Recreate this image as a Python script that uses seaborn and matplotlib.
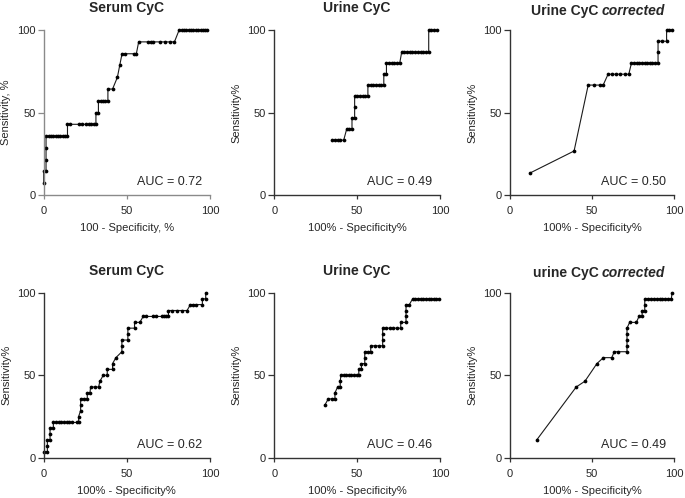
import numpy as np
import pandas as pd
import matplotlib
matplotlib.use("Agg")
import matplotlib.pyplot as plt
import seaborn as sns

sns.set_style("ticks")
plt.rcParams['font.family'] = ['Liberation Sans', 'DejaVu Sans']

# --- ROC curve points ---
# top row
serum_top_x = [0, 0, 1.4, 1.4, 1.4, 1.4, 2.9, 4.3, 5.7, 7.1, 8.6, 10, 11.4, 12.9, 14.3,
               14.3, 15.7, 21.4, 22.9, 25.7, 27.1, 28.6, 30, 31.4, 31.4, 32.9,
               32.9, 34.3, 35.7, 37.1, 38.6, 38.6, 41.4, 44.3, 45.7, 47.1, 48.6, 54.3, 55.7,
               57.1, 62.9, 64.3, 65.7, 70, 72.9, 75.7, 78.6,
               81.4, 82.9, 84.3, 85.7, 87.1, 88.6, 90, 91.4, 92.9, 94.3, 95.7, 97.1, 98.2]
serum_top_y = [7.1, 14.3, 14.3, 21.4, 28.6, 35.7, 35.7, 35.7, 35.7, 35.7, 35.7, 35.7, 35.7, 35.7, 35.7,
               42.9, 42.9, 42.9, 42.9, 42.9, 42.9, 42.9, 42.9, 42.9, 50, 50,
               57.1, 57.1, 57.1, 57.1, 57.1, 64.3, 64.3, 71.4, 78.6, 85.7, 85.7, 85.7, 85.7,
               92.9, 92.9, 92.9, 92.9, 92.9, 92.9, 92.9, 92.9,
               100, 100, 100, 100, 100, 100, 100, 100, 100, 100, 100, 100, 100]

urine_top_x = [35, 36.6, 38.2, 39.8, 41.9, 43.7, 45.3, 46.9, 46.9, 48.5, 48.5, 48.5,
               50.1, 51.7, 53.3, 54.9, 56.5, 56.5, 58.1, 59.7, 61.3, 62.9, 64.5, 66.1,
               66.1, 67.7, 67.7, 69.3, 70.9, 72.5, 74.1, 75.7,
               76.9, 78.5, 80.2, 81.8, 83.4, 85.1, 86.7, 88.3, 90, 91.6, 93.2,
               93.2, 94.8, 96.4, 98]
urine_top_y = [33.3, 33.3, 33.3, 33.3, 33.3, 40, 40, 40, 46.7, 46.7, 53.3, 60,
               60, 60, 60, 60, 60, 66.7, 66.7, 66.7, 66.7, 66.7, 66.7, 66.7,
               73.3, 73.3, 80, 80, 80, 80, 80, 80,
               86.7, 86.7, 86.7, 86.7, 86.7, 86.7, 86.7, 86.7, 86.7, 86.7, 86.7,
               100, 100, 100, 100]

corr_top_x = [12.1, 39, 47.6, 51, 54.5, 56.7, 59.7, 62.1, 64.6, 67, 70.2, 72.3,
              73.9, 75.5, 77.1, 78.7, 80.3, 81.9, 83.5, 85.1, 86.7, 88.3, 90.1,
              90.1, 90.1, 92.5, 95.3, 95.3, 97, 98.6]
corr_top_y = [13.3, 26.7, 66.7, 66.7, 66.7, 66.7, 73.3, 73.3, 73.3, 73.3, 73.3, 73.3,
              80, 80, 80, 80, 80, 80, 80, 80, 80, 80, 80,
              86.7, 93.3, 93.3, 93.3, 100, 100, 100]

# bottom row
serum_bot_x = [0, 2.2, 2.2, 2.2, 3.8, 3.8, 3.8, 5.8, 5.8, 7.4, 9, 10.6, 12.2, 13.8, 15.4, 17, 20, 21,
               21, 22.2, 22.2, 22.2, 24.2, 26.2, 26.2, 27.8, 28.2, 30.6, 33, 33.8, 35.8, 38.2,
               38.2, 41.4, 41.4, 43.4, 47, 47, 47, 50.6, 50.6, 50.6, 54.6, 54.6, 57.8,
               59.8, 61.8, 65.8, 67.8, 71.4, 72.6, 73.8, 75, 75, 77.4, 80.2, 83, 86.2,
               88.2, 89.8, 91.8, 95.4, 95.4, 97.4, 97.4]
serum_bot_y = [3.6, 3.6, 7.1, 10.7, 10.7, 14.3, 17.9, 17.9, 21.4, 21.4, 21.4, 21.4, 21.4, 21.4, 21.4, 21.4, 21.4, 21.4,
               25, 28.6, 32.1, 35.7, 35.7, 35.7, 39.3, 39.3, 42.9, 42.9, 42.9, 46.4, 50, 50,
               53.6, 53.6, 57.1, 60.7, 64.3, 67.9, 71.4, 71.4, 75, 78.6, 78.6, 82.1, 82.1,
               85.7, 85.7, 85.7, 85.7, 85.7, 85.7, 85.7, 85.7, 89.3, 89.3, 89.3, 89.3, 89.3,
               92.9, 92.9, 92.9, 92.9, 96.4, 96.4, 100]

urine_bot_x = [30.6, 32.6, 34.6, 36.6, 36.6, 38.2, 39.8, 39.8, 40.2, 41.8, 43.4, 45, 46.6, 48.2, 49.8, 51,
               51, 52.6, 52.6, 54.6, 54.6, 54.6, 56.6, 58.2, 58.2, 60.6, 63, 65.4,
               65.4, 65.4, 65.4, 67.4, 69.6, 71.8, 74, 76.3, 76.3, 79.5, 79.5, 79.5, 79.5,
               81.5, 83.5, 85.1, 86.7, 88.3, 89.9, 91.5, 93.1, 94.7, 96.3, 97.9, 99.5]
urine_bot_y = [32.1, 35.7, 35.7, 35.7, 39.3, 42.9, 42.9, 46.4, 50, 50, 50, 50, 50, 50, 50, 50,
               53.6, 53.6, 57.1, 57.1, 60.7, 64.3, 64.3, 64.3, 67.9, 67.9, 67.9, 67.9,
               71.4, 75, 78.6, 78.6, 78.6, 78.6, 78.6, 78.6, 82.1, 82.1, 85.7, 89.3, 92.9,
               92.9, 96.4, 96.4, 96.4, 96.4, 96.4, 96.4, 96.4, 96.4, 96.4, 96.4, 96.4]

corr_bot_x = [16.2, 40.3, 45.6, 52.9, 56.8, 61.9, 63.5, 65.9, 71.2, 71.2, 71.2, 71.2, 71.2,
              72.8, 76.9, 78.5, 80.4, 80.4, 82, 82, 82,
              83.8, 85.6, 87.4, 89.2, 91, 92.8, 94.6, 96.4, 98.2, 98.6]
corr_bot_y = [10.7, 42.9, 46.4, 57.1, 60.7, 60.7, 64.3, 64.3, 64.3, 67.9, 71.4, 75, 78.6,
              82.1, 82.1, 85.7, 85.7, 89.3, 89.3, 92.9, 96.4,
              96.4, 96.4, 96.4, 96.4, 96.4, 96.4, 96.4, 96.4, 96.4, 100]

titles = ["Serum CyC", "Urine CyC", "Urine CyC", "Serum CyC", "Urine CyC", "urine CyC"]
italic_suffix = [None, None, "corrected", None, None, "corrected"]
auc_labels = ["AUC = 0.72", "AUC = 0.49", "AUC = 0.50", "AUC = 0.62", "AUC = 0.46", "AUC = 0.49"]
xlabels = ["100 - Specificity, %"] + ["100% - Specificity%"] * 5
ylabels = ["Sensitivity, %"] + ["Sensitivity%"] * 5

curves = [(serum_top_x, serum_top_y), (urine_top_x, urine_top_y), (corr_top_x, corr_top_y),
          (serum_bot_x, serum_bot_y), (urine_bot_x, urine_bot_y), (corr_bot_x, corr_bot_y)]

fig = plt.figure(figsize=(6.85, 4.98), dpi=100)

lefts = [0.0638, 0.4004, 0.7445]
widths = [0.2428, 0.2419, 0.2399]
bottoms = [0.6084, 0.0809]
height = 0.3310

for i, (xs, ys) in enumerate(curves):
    row, col = divmod(i, 3)
    ax = fig.add_axes([lefts[col], bottoms[row], widths[col], height])
    df = pd.DataFrame({"fpr": xs, "tpr": ys})
    sns.lineplot(data=df, x="fpr", y="tpr", sort=False, estimator=None, ax=ax,
                 color="#1a1a1a", linewidth=0.8, marker="o", markersize=2.7,
                 markeredgewidth=0, markerfacecolor="black")
    for ln in ax.lines:
        ln.set_clip_on(False)

    spine_col = "#8a8a8a" if i == 0 else "#333333"
    ax.set_xlim(0, 100)
    ax.set_ylim(0, 100)
    ax.set_xticks([0, 50, 100])
    ax.set_yticks([0, 50, 100])
    sns.despine(ax=ax)
    for s in ["left", "bottom"]:
        ax.spines[s].set_color(spine_col)
        ax.spines[s].set_linewidth(1.0)
    ax.tick_params(axis="both", direction="out", width=0.9, color=spine_col, labelsize=8)
    ax.tick_params(axis="x", length=3, pad=5)
    ax.tick_params(axis="y", length=4.5, pad=1.5)
    ax.set_xlabel(xlabels[i], fontsize=8, labelpad=5)
    ax.set_ylabel(ylabels[i], fontsize=8, labelpad=4)

    ax.text(0.95, 0.08, auc_labels[i], transform=ax.transAxes, ha="right", va="center",
            fontsize=9)

    if italic_suffix[i] is None:
        ax.set_title(titles[i], fontsize=10, fontweight="bold", pad=13)
    else:
        ax.text(0.54, 1.095, titles[i], transform=ax.transAxes, ha="right", va="baseline",
                fontsize=10, fontweight="bold")
        ax.text(0.56, 1.095, italic_suffix[i], transform=ax.transAxes, ha="left", va="baseline",
                fontsize=10, fontweight="bold", fontstyle="italic")

fig.savefig("out.png", dpi=100)
